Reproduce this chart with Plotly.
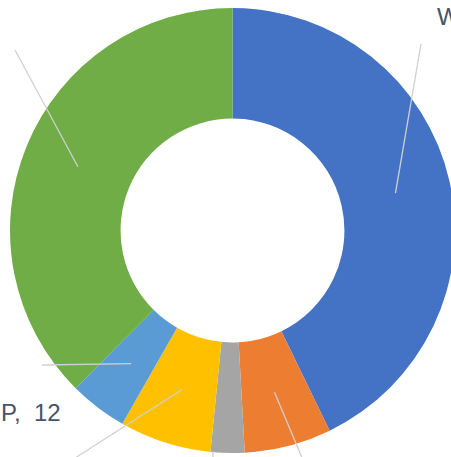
import numpy as np
import plotly.graph_objects as go

# ---- data ----
categories = ["W", "X", "Y", "Z", "P", "Q"]
values = [122, 18, 7, 19, 12, 107]
colors = ["#4472C4", "#ED7D31", "#A5A5A5", "#FFC000", "#5B9BD5", "#70AD47"]
label_text = {"W": "W,\u00a0 122", "P": "P,\u00a0 12"}

# ---- layout constants (pixels) ----
FIG_W, FIG_H = 520, 520
CX, CY = 232.5, 230.5
R_OUT = 222.5
HOLE = 0.503

fig = go.Figure(go.Pie(
    labels=categories, values=values, sort=False, direction="clockwise",
    rotation=0, hole=HOLE, textinfo="none", hoverinfo="label+value",
    marker=dict(colors=colors, line=dict(width=0)),
    domain=dict(x=[(CX - R_OUT) / FIG_W, (CX + R_OUT) / FIG_W],
                y=[1 - (CY + R_OUT) / FIG_H, 1 - (CY - R_OUT) / FIG_H]),
    showlegend=False,
))

# leader lines from mid-ring of each slice (angles from data)
vals = np.array(values, dtype=float)
cum = np.cumsum(vals) / vals.sum() * 360
mids = cum - vals / vals.sum() * 360 / 2
r_mid = R_OUT * (1 + HOLE) / 2
line_ends = {"W": (421, 44), "X": (303, 460), "Z": (72, 460), "P": (42, 365), "Q": (15, 50), "Y": (213, 470)}
shapes = []
for cat, ang in zip(categories, mids):
    a = np.deg2rad(ang)
    sx = CX + r_mid * np.sin(a)
    sy = CY - r_mid * np.cos(a)
    if cat == "Y":
        sx, sy = 213, 451
    ex, ey = line_ends[cat]
    shapes.append(dict(type="line", xref="paper", yref="paper",
                       x0=sx / FIG_W, y0=1 - sy / FIG_H, x1=ex / FIG_W, y1=1 - ey / FIG_H,
                       line=dict(color="#D0D0D0", width=1.3), layer="above"))

annotations = [
    dict(text=label_text["W"], x=435 / FIG_W, y=1 - 17 / FIG_H, xref="paper", yref="paper",
         xanchor="left", yanchor="middle", showarrow=False),
    dict(text=label_text["P"], x=63 / FIG_W, y=1 - 412 / FIG_H, xref="paper", yref="paper",
         xanchor="right", yanchor="middle", showarrow=False),
]

fig.update_layout(
    width=FIG_W, height=FIG_H, margin=dict(l=0, r=0, t=0, b=0),
    paper_bgcolor="white", plot_bgcolor="white",
    font=dict(family="Liberation Sans, Arial, sans-serif", size=24, color="#44546A"),
    shapes=shapes, annotations=annotations,
)

fig.write_html("out.html")
